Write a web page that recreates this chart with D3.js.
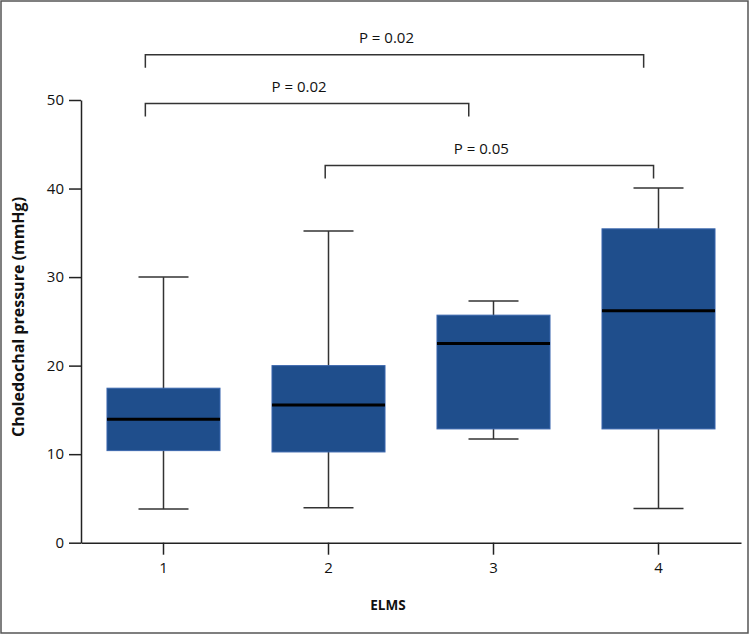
<!DOCTYPE html>
<html>
<head>
<meta charset="utf-8">
<script src="https://cdn.jsdelivr.net/npm/d3@7"></script>
<style>
  body { margin: 0; background: #fff; }
  svg { display: block; font-family: "Open Sans", sans-serif; }
  .axis path, .axis line { stroke: #222; stroke-width: 1.5; }
  .axis text { font-size: 15px; fill: #111; font-family: "Open Sans", sans-serif; }
</style>
</head>
<body>
<svg width="750" height="635"></svg>
<script>
// ELMS groups and box statistics (mmHg)
const groups = ["1", "2", "3", "4"];
const whiskerLow = [3.8, 3.95, 11.7, 3.85];
const q1 = [10.4, 10.25, 12.85, 12.85];
const medians = [13.95, 15.55, 22.5, 26.2];
const q3 = [17.45, 20.0, 25.7, 35.45];
const whiskerHigh = [30.0, 35.2, 27.3, 40.05];
const yTicks = [0, 10, 20, 30, 40, 50];

// significance brackets, ends given in group units, level in mmHg
const compFrom = [0.89, 0.89, 1.98];
const compTo = [3.91, 2.85, 3.97];
const compLevel = [55.1, 49.6, 42.6];
const compLabels = ["P = 0.02", "P = 0.02", "P = 0.05"];

var svg = d3.select("svg");

svg.append("rect")
  .attr("x", 1).attr("y", 1)
  .attr("width", 747).attr("height", 632)
  .attr("fill", "none")
  .attr("stroke", "#555")
  .attr("stroke-width", 1.5);

var x = d3.scaleBand().domain(groups).range([81, 741]).paddingInner(0.315).paddingOuter(0.1575);
var y = d3.scaleLinear().domain([0, 50]).range([542.7, 100]);
var bw = x.bandwidth();
var xg = d3.scaleLinear().domain([1, 4]).range([x("1") + bw / 2, x("4") + bw / 2]);

var data = groups.map((g, i) => ({
  g: g, lo: whiskerLow[i], q1: q1[i], med: medians[i], q3: q3[i], hi: whiskerHigh[i]
}));

var boxes = svg.selectAll(".box").data(data).enter().append("g").attr("class", "box");
var cx = d => x(d.g) + bw / 2;

// whiskers
boxes.append("line")
  .attr("x1", cx).attr("x2", cx)
  .attr("y1", d => y(d.hi)).attr("y2", d => y(d.lo))
  .attr("stroke", "#333").attr("stroke-width", 1.5);
boxes.append("line")
  .attr("x1", d => cx(d) - 25).attr("x2", d => cx(d) + 25)
  .attr("y1", d => y(d.hi)).attr("y2", d => y(d.hi))
  .attr("stroke", "#333").attr("stroke-width", 1.5);
boxes.append("line")
  .attr("x1", d => cx(d) - 25).attr("x2", d => cx(d) + 25)
  .attr("y1", d => y(d.lo)).attr("y2", d => y(d.lo))
  .attr("stroke", "#333").attr("stroke-width", 1.5);

boxes.append("rect")
  .attr("x", d => x(d.g))
  .attr("width", bw)
  .attr("y", d => y(d.q3))
  .attr("height", d => y(d.q1) - y(d.q3))
  .attr("fill", "#1f4e8c")
  .attr("stroke", "#3a66ad")
  .attr("stroke-width", 1);

boxes.append("line")
  .attr("x1", d => x(d.g)).attr("x2", d => x(d.g) + bw)
  .attr("y1", d => y(d.med)).attr("y2", d => y(d.med))
  .attr("stroke", "#000").attr("stroke-width", 3);

// brackets
var comps = compLabels.map((l, i) => ({ from: compFrom[i], to: compTo[i], level: compLevel[i], label: l }));
var br = svg.selectAll(".bracket").data(comps).enter().append("g").attr("class", "bracket");
br.append("path")
  .attr("d", d => "M" + xg(d.from) + "," + (y(d.level) + 13) +
                  "V" + y(d.level) + "H" + xg(d.to) + "V" + (y(d.level) + 13))
  .attr("fill", "none").attr("stroke", "#333").attr("stroke-width", 1.5);
br.append("text")
  .attr("x", d => (xg(d.from) + xg(d.to)) / 2 - 8)
  .attr("y", d => y(d.level) - 12)
  .attr("text-anchor", "middle")
  .style("font-size", "15px")
  .attr("fill", "#111")
  .text(d => d.label);

// axes
svg.append("g")
  .attr("class", "axis")
  .attr("transform", "translate(81,0)")
  .call(d3.axisLeft(y).tickValues(yTicks).tickSize(12).tickSizeOuter(0).tickPadding(5));

svg.append("g")
  .attr("class", "axis")
  .attr("transform", "translate(0,542.7)")
  .call(d3.axisBottom(x).tickSize(12).tickSizeOuter(0).tickPadding(8));

svg.append("text")
  .attr("x", 388).attr("y", 610)
  .attr("text-anchor", "middle")
  .style("font-size", "13.5px").style("font-weight", "bold")
  .attr("fill", "#111")
  .text("ELMS");

svg.append("text")
  .attr("transform", "translate(24,317) rotate(-90)")
  .attr("text-anchor", "middle")
  .style("font-size", "16px").style("font-weight", "bold")
  .attr("fill", "#111")
  .text("Choledochal pressure (mmHg)");
</script>
</body>
</html>
